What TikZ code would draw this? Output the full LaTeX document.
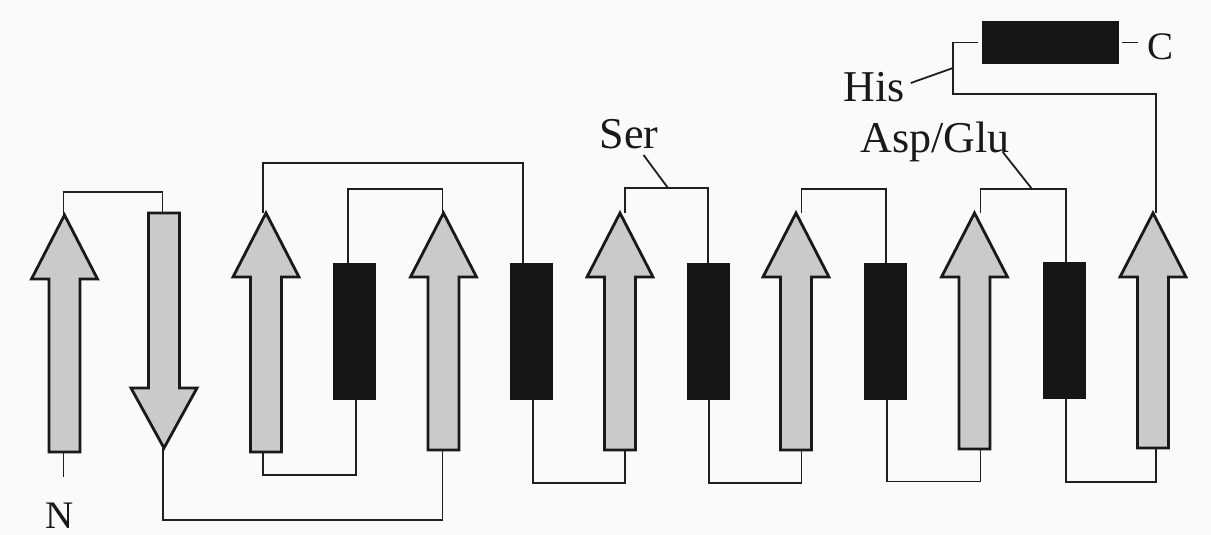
\documentclass[tikz,border=0pt]{standalone}
\usepackage{fontspec}
\setmainfont{Liberation Serif}
\definecolor{sheetgray}{RGB}{202,202,202}
\definecolor{helixblack}{RGB}{22,22,22}
\definecolor{bgcol}{RGB}{250,250,250}
% up strand: name, centre x, tip y, bottom y, connector x offset
\newcommand\upstrand[5]{%
  \draw[strand] (#2,#3) -- (#2+33,#3+64) -- (#2+15.5,#3+64) -- (#2+15.5,#4)
    -- (#2-15.5,#4) -- (#2-15.5,#3+64) -- (#2-33,#3+64) -- cycle;
  \coordinate (#1tip) at (#2+#5,#3);
  \coordinate (#1tail) at (#2+#5,#4);}
\begin{document}
\begin{tikzpicture}[x=1pt,y=-1pt,
  strand/.style={draw=black!90,line width=2.8pt,fill=sheetgray,line join=miter},
  helix/.style={draw=none,fill=helixblack,minimum width=43pt,minimum height=137pt,inner sep=0pt,outer sep=0pt},
  conn/.style={draw=black!88,line width=1.8pt},
  lab/.style={font=\fontsize{44}{50}\selectfont,inner sep=0pt,anchor=base,text=black!90},
  term/.style={font=\fontsize{39}{45}\selectfont,inner sep=0pt,anchor=base,text=black!90}]
\useasboundingbox[fill=bgcol] (0,0) rectangle (1211,535);

% helices
\node[helix] (H1) at (354.5,331.5) {};
\node[helix] (H2) at (531.5,331.5) {};
\node[helix] (H3) at (708,331.5) {};
\node[helix] (H4) at (885,331) {};
\node[helix] (H5) at (1064.5,330.5) {};
\node[helix,minimum width=137pt,minimum height=43pt] (HC) at (1050.5,42.5) {};

% strands
\upstrand{A1}{64.5}{215}{452}{-1}
\upstrand{A3}{266}{213}{452}{-3}
\upstrand{A4}{443.5}{213}{450}{-1}
\upstrand{A5}{620}{213}{450}{5}
\upstrand{A6}{796}{213}{450}{5.5}
\upstrand{A7}{974.5}{213}{449}{6}
\upstrand{A8}{1153}{213}{448}{3}
% down strand
\draw[strand] (148.5,213) -- (179.5,213) -- (179.5,388) -- (197,388) -- (164,448)
  -- (131,388) -- (148.5,388) -- cycle;
\coordinate (A2top) at (162.5,213);
\coordinate (A2tip) at (163,448);

% labels
\node[term] (N) at (60,528) {N};
\node[term] (C) at (1160,60) {C};
\node[lab] (Ser) at (629,148) {Ser};
\node[lab] (Asp) at (935,152) {Asp/Glu};
\node[lab] (His) at (874,102) {His};

% connectors
\draw[conn] (A1tail) -- ++(0,25);
\draw[conn] (A1tip) -- ++(0,-23) -| (A2top);
\draw[conn] (A2tip) -- ++(0,72) -| (A4tail);
\draw[conn] (A4tip) -- ++(0,-24) -| ([xshift=-6.5pt]H1.north);
\draw[conn] ([xshift=1.5pt]H1.south) -- ++(0,75) -| (A3tail);
\draw[conn] (A3tip) -- ++(0,-50) -| ([xshift=-8.5pt]H2.north);
\draw[conn] ([xshift=1.5pt]H2.south) -- ++(0,83) -| (A5tail);
\draw[conn] (A5tip) -- ++(0,-25) -| (H3.north);
\draw[conn] ([xshift=1pt]H3.south) -- ++(0,83) -| (A6tail);
\draw[conn] (A6tip) -- ++(0,-24) -| ([xshift=1pt]H4.north);
\draw[conn] ([xshift=2pt]H4.south) -- ++(0,82) -| (A7tail);
\draw[conn] (A7tip) -- ++(0,-24) -| ([xshift=1.5pt]H5.north);
\draw[conn] ([xshift=1.5pt]H5.south) -- ++(0,83) -| (A8tail);
\coordinate (hisjoint) at (953,94);
\draw[conn] (A8tip) |- (hisjoint) -- (hisjoint |- HC.west) -- ([xshift=-4pt]HC.west);
\draw[conn] ([xshift=3pt]HC.east) -- ++(16,0);

% pointers
\coordinate (serpt) at (668,188);
\coordinate (asppt) at (1032,189);
\coordinate (hispt) at (953,68);
\draw[conn] ([xshift=-15pt,yshift=-7pt]Ser.base east) -- (serpt);
\draw[conn] ([xshift=-7pt]Asp.base east) -- (asppt);
\draw[conn] ([xshift=6pt,yshift=19pt]His.base east) -- (hispt);
\end{tikzpicture}
\end{document}
